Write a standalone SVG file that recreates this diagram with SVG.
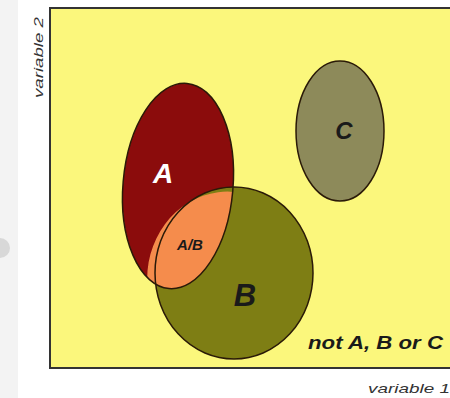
<svg xmlns="http://www.w3.org/2000/svg" width="450" height="398" viewBox="0 0 450 398">
<defs>
<style>
.lbl{font-family:"Liberation Sans",Arial,sans-serif;font-weight:bold;font-style:italic}
.ax{font-family:"Liberation Sans",Arial,sans-serif;font-style:italic;font-size:13px;fill:#333}
.ol{fill:none;stroke:#2a1a08;stroke-width:1.5}
</style>
<clipPath id="clipB"><ellipse cx="234" cy="273" rx="79" ry="86"/></clipPath>
</defs>
<rect width="450" height="398" fill="#ffffff"/>
<rect x="0" y="0" width="18" height="398" fill="#f3f3f3"/>
<circle cx="0" cy="248" r="10" fill="#d8d8d8"/>
<rect x="50" y="8" width="402" height="360" fill="#fbf77c" stroke="#333" stroke-width="2"/>
<g id="C">
<ellipse cx="340" cy="131" rx="44" ry="70" fill="#8d8a5a" stroke="#2a1a08" stroke-width="1.5"/>
<text x="344" y="139" class="lbl" font-size="24" fill="#1a1a1a" text-anchor="middle">C</text>
</g>
<g id="A">
<ellipse cx="178" cy="186" rx="55" ry="103" transform="rotate(5 178 186)" fill="#8b0c0c"/>
</g>
<g id="B">
<ellipse cx="234" cy="273" rx="79" ry="86" fill="#7e7e14"/>
</g>
<g id="AB">
<ellipse cx="178" cy="186" rx="55" ry="103" transform="rotate(5 178 186)" fill="#f58c4c" clip-path="url(#clipB)"/>
</g>
<ellipse cx="178" cy="186" rx="55" ry="103" transform="rotate(5 178 186)" class="ol"/>
<ellipse cx="234" cy="273" rx="79" ry="86" class="ol"/>
<text x="163" y="183" class="lbl" font-size="28" fill="#ffffff" text-anchor="middle">A</text>
<text x="190" y="250" class="lbl" font-size="15" fill="#1a1a1a" text-anchor="middle">A/B</text>
<text x="245" y="306" class="lbl" font-size="31" fill="#1a1a1a" text-anchor="middle">B</text>
<text x="308" y="349" class="lbl" font-size="19" fill="#1a1a1a" textLength="135" lengthAdjust="spacingAndGlyphs">not A, B or C</text>
<text x="368" y="393" class="ax" textLength="82" lengthAdjust="spacingAndGlyphs">variable 1</text>
<text transform="translate(43 98) rotate(-90)" class="ax" textLength="81" lengthAdjust="spacingAndGlyphs">variable 2</text>
</svg>
